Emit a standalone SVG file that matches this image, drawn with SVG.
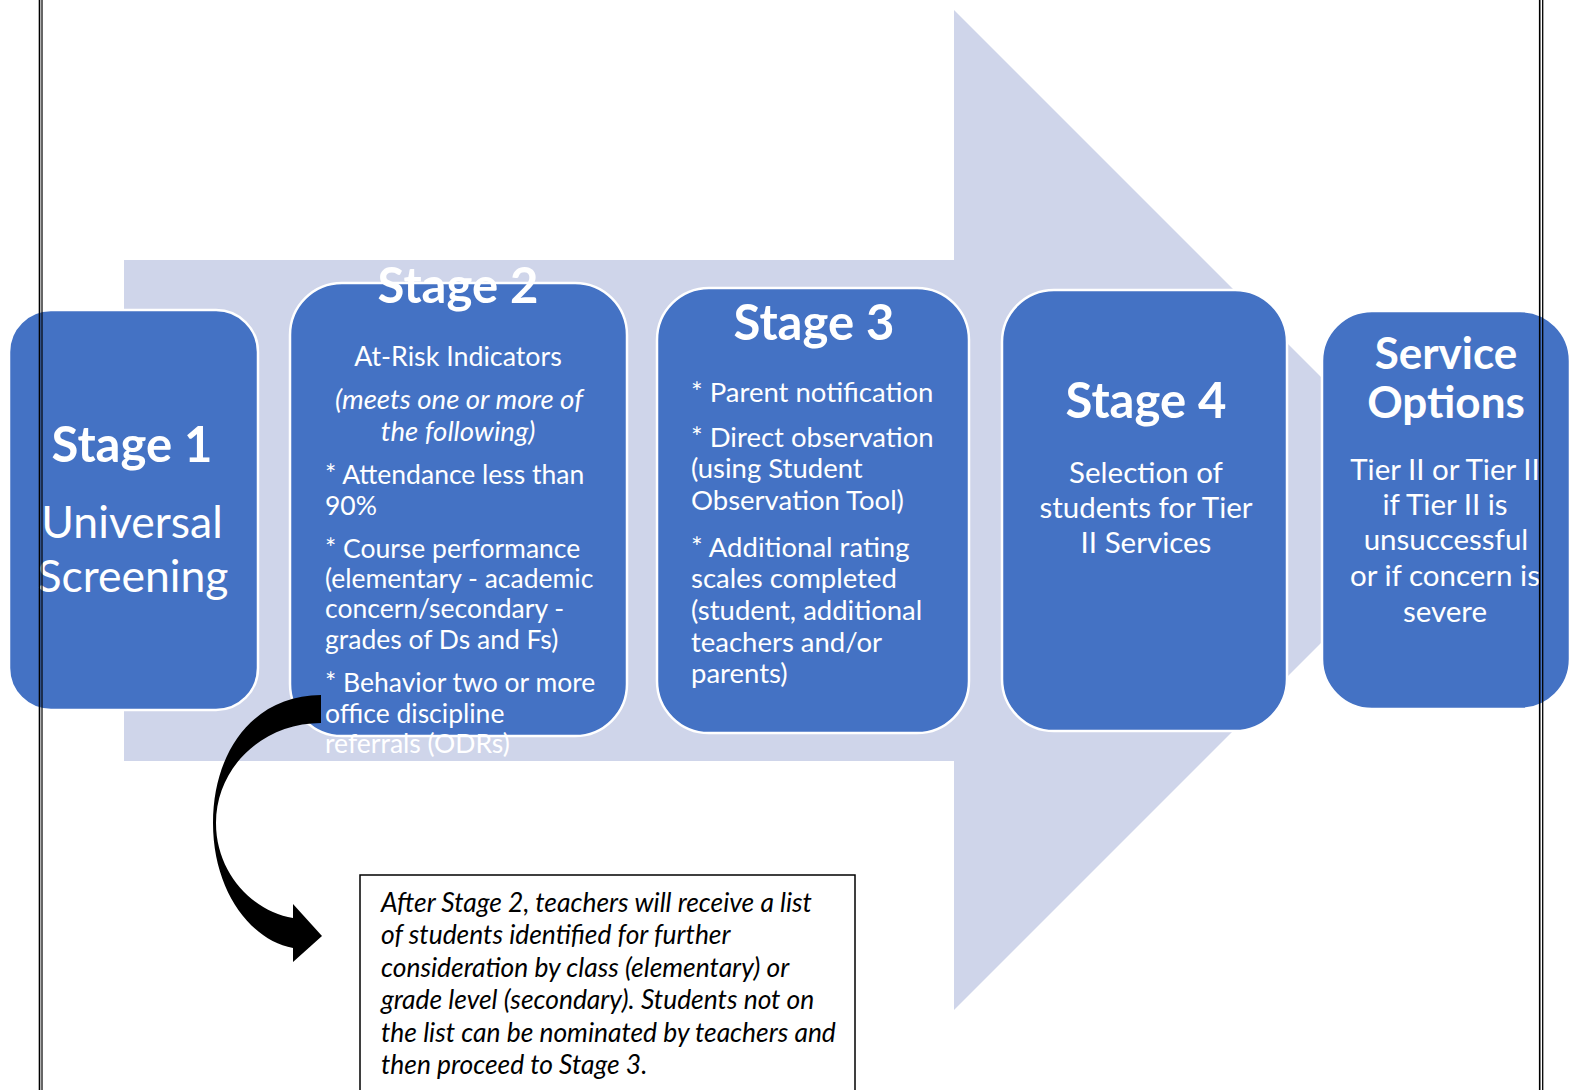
<svg xmlns="http://www.w3.org/2000/svg" width="1571" height="1090" viewBox="0 0 1571 1090">
<style>
text{font-family:Lato,"Open Sans","Liberation Sans",sans-serif;fill:#fff}
.t{font-weight:bold;font-size:49px;text-anchor:middle}
.big{font-size:44.5px;text-anchor:middle}
.b{font-size:26.5px}
.b3{font-size:27.5px}
.c{text-anchor:middle}
.i{font-style:italic;font-size:27.6px}
.b4{font-size:29.5px;text-anchor:middle}
.so{font-weight:bold;font-size:44px;text-anchor:middle}
.box{fill:#4472C4;stroke:#fff;stroke-width:2.5}
.note{font-style:italic;font-size:26.4px;fill:#000}
</style>
<rect width="1571" height="1090" fill="#fff"/>
<polygon points="124,260 954,260 954,10 1454,510 954,1010 954,761 124,761" fill="#CFD5EA"/>
<g id="stage1">
<rect class="box" x="9" y="310" width="249" height="400" rx="42"/>
<text class="t" x="132" y="462">Stage 1</text>
<text class="big" x="132" y="538">Universal</text>
<text class="big" x="133" y="592">Screening</text>
</g>
<g id="stage2">
<rect class="box" x="290" y="283" width="337" height="453" rx="52"/>
<text class="t" x="458" y="303">Stage 2</text>
<text class="b c" x="458" y="366" style="font-size:26.8px">At-Risk Indicators</text>
<text class="c i" x="459" y="409">(meets one or more of</text>
<text class="c i" x="458" y="441">the following)</text>
<text class="b" x="325" y="484">* Attendance less than</text>
<text class="b" x="325" y="515">90%</text>
<text class="b" x="325" y="558">* Course performance</text>
<text class="b" x="325" y="588">(elementary - academic</text>
<text class="b" x="325" y="618">concern/secondary -</text>
<text class="b" x="325" y="649">grades of Ds and Fs)</text>
<text class="b" x="325" y="692">* Behavior two or more</text>
<text class="b" x="325" y="723">office discipline</text>
<text class="b" x="325" y="753">referrals (ODRs)</text>
</g>
<g id="stage3">
<rect class="box" x="657" y="288" width="312" height="445" rx="52"/>
<text class="t" x="814" y="340">Stage 3</text>
<text class="b3" x="691" y="402">* Parent notification</text>
<text class="b3" x="691" y="447">* Direct observation</text>
<text class="b3" x="691" y="478">(using Student</text>
<text class="b3" x="691" y="510">Observation Tool)</text>
<text class="b3" x="691" y="557">* Additional rating</text>
<text class="b3" x="691" y="588">scales completed</text>
<text class="b3" x="691" y="620">(student, additional</text>
<text class="b3" x="691" y="652">teachers and/or</text>
<text class="b3" x="691" y="683">parents)</text>
</g>
<g id="stage4">
<rect class="box" x="1002" y="290" width="285" height="441" rx="52"/>
<text class="t" x="1146" y="418">Stage 4</text>
<text class="b4" x="1146" y="483">Selection of</text>
<text class="b4" x="1146" y="518">students for Tier</text>
<text class="b4" x="1146" y="553">II Services</text>
</g>
<g id="service-options">
<rect class="box" x="1322" y="311" width="248" height="398" rx="50"/>
<text class="so" x="1446" y="369">Service</text>
<text class="so" x="1446" y="418">Options</text>
<text class="b4" x="1445" y="480">Tier II or Tier II</text>
<text class="b4" x="1445" y="515">if Tier II is</text>
<text class="b4" x="1446" y="550">unsuccessful</text>
<text class="b4" x="1445" y="586">or if concern is</text>
<text class="b4" x="1445" y="622">severe</text>
</g>
<g id="connectors">
<path d="M321,695 C255,695 213,750 213,823 C213,890 250,940 293,948 L293,962 L322,936 L293,904 L293,918 C255,912 216,875 216,823 C216,768 262,723 321,723 Z" fill="#000"/>
</g>
<g id="note">
<rect x="360" y="875" width="495" height="230" fill="#fff" stroke="#000" stroke-width="1.5"/>
<text class="note" x="381" y="912">After Stage 2, teachers will receive a list</text>
<text class="note" x="381" y="944">of students identified for further</text>
<text class="note" x="381" y="977">consideration by class (elementary) or</text>
<text class="note" x="381" y="1009">grade level (secondary). Students not on</text>
<text class="note" x="381" y="1042">the list can be nominated by teachers and</text>
<text class="note" x="381" y="1074">then proceed to Stage 3.</text>
</g>
<g id="page-border" stroke="#000">
<line x1="39.5" y1="0" x2="39.5" y2="1090" stroke-width="1.6"/>
<line x1="42" y1="0" x2="42" y2="1090" stroke-width="1.2"/>
<line x1="1539.7" y1="0" x2="1539.7" y2="1090" stroke-width="1.6"/>
<line x1="1542.7" y1="0" x2="1542.7" y2="1090" stroke-width="1.3"/>
</g>
</svg>
